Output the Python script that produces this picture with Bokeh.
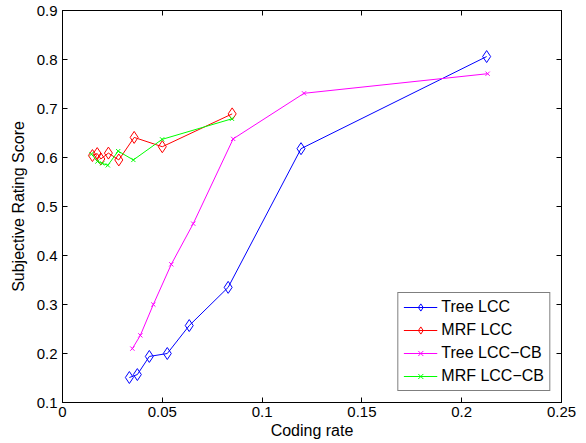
from bokeh.plotting import figure
from bokeh.models import Range1d, LinearAxis, FixedTicker, Legend, LegendItem
from bokeh.embed import file_html
from bokeh.resources import INLINE

# ---- data ----
tree_lcc_x = [0.0335, 0.0375, 0.0435, 0.0525, 0.0635, 0.0830, 0.1195, 0.2125]
tree_lcc_y = [0.151, 0.157, 0.194, 0.200, 0.257, 0.335, 0.618, 0.806]

mrf_lcc_x = [0.0150, 0.0174, 0.0192, 0.0230, 0.0282, 0.0359, 0.0500, 0.0850]
mrf_lcc_y = [0.604, 0.608, 0.597, 0.609, 0.595, 0.641, 0.622, 0.689]

tree_cb_x = [0.0350, 0.0390, 0.0455, 0.0545, 0.0655, 0.0855, 0.1210, 0.2130]
tree_cb_y = [0.210, 0.237, 0.300, 0.382, 0.465, 0.638, 0.731, 0.771]

mrf_cb_x = [0.0145, 0.0175, 0.0199, 0.0227, 0.0279, 0.0355, 0.0499, 0.0849]
mrf_cb_y = [0.607, 0.592, 0.588, 0.584, 0.613, 0.595, 0.637, 0.679]

x_ticks = [0, 0.05, 0.1, 0.15, 0.2, 0.25]
x_tick_labels = ["0", "0.05", "0.1", "0.15", "0.2", "0.25"]
y_ticks = [0.1, 0.2, 0.3, 0.4, 0.5, 0.6, 0.7, 0.8, 0.9]
y_tick_labels = ["0.1", "0.2", "0.3", "0.4", "0.5", "0.6", "0.7", "0.8", "0.9"]

FONT = "Liberation Sans"

p = figure(width=586, height=443, output_backend="svg", toolbar_location=None,
           x_range=Range1d(0, 0.25), y_range=Range1d(0.1, 0.9),
           min_border_left=62, min_border_right=25, min_border_top=10, min_border_bottom=41)
p.xgrid.visible = False
p.ygrid.visible = False
p.outline_line_color = "black"
p.outline_line_width = 1
p.background_fill_color = "white"
p.border_fill_color = "white"

def style_axis(ax, ticks, labels, show_labels=True):
    ax.ticker = FixedTicker(ticks=ticks)
    ax.major_tick_in = 5
    ax.major_tick_out = 0
    ax.minor_tick_line_color = None
    ax.axis_line_color = "black"
    ax.major_tick_line_color = "black"
    ax.major_label_text_font = FONT
    ax.major_label_text_color = "black"
    ax.major_label_text_font_size = "15px"
    if show_labels:
        ax.major_label_overrides = {t: l for t, l in zip(ticks, labels)}
    else:
        ax.major_label_overrides = {t: "" for t in ticks}
        ax.major_label_standoff = 0

style_axis(p.xaxis[0], x_ticks, x_tick_labels)
p.xaxis[0].major_label_standoff = 4
p.xaxis[0].axis_label = "Coding rate"
p.xaxis[0].axis_label_standoff = 2
style_axis(p.yaxis[0], y_ticks, y_tick_labels)
p.yaxis[0].major_label_standoff = 5
p.yaxis[0].axis_label = "Subjective Rating Score"
p.yaxis[0].axis_label_standoff = 7
for ax in (p.xaxis[0], p.yaxis[0]):
    ax.axis_label_text_font = FONT
    ax.axis_label_text_font_size = "16px"
    ax.axis_label_text_font_style = "normal"
    ax.axis_label_text_color = "black"

right = LinearAxis()
style_axis(right, y_ticks, y_tick_labels, show_labels=False)
p.add_layout(right, "right")
top = LinearAxis()
style_axis(top, x_ticks, x_tick_labels, show_labels=False)
p.add_layout(top, "above")

series = [
    ("Tree LCC", tree_lcc_x, tree_lcc_y, "#0000FF", "diamond"),
    ("MRF LCC", mrf_lcc_x, mrf_lcc_y, "#FF0000", "diamond"),
    ("Tree LCC\u2212CB", tree_cb_x, tree_cb_y, "#FF00FF", "x"),
    ("MRF LCC\u2212CB", mrf_cb_x, mrf_cb_y, "#00FF00", "x"),
]
items = []
for name, xs, ys, col, mk in series:
    ln = p.line(xs, ys, line_color=col, line_width=1)
    if mk == "diamond":
        sc = p.scatter(xs, ys, marker="diamond", size=12, line_color=col, fill_color=None, line_width=1)
    else:
        sc = p.scatter(xs, ys, marker="x", size=6, line_color=col, line_width=1)
    items.append(LegendItem(label=name, renderers=[ln, sc]))

legend = Legend(items=items, location="bottom_right")
legend.border_line_color = "black"
legend.border_line_width = 1
legend.label_text_font = FONT
legend.label_text_font_size = "16px"
legend.label_text_color = "black"
legend.glyph_width = 34
legend.glyph_height = 18
legend.label_height = 18
legend.label_standoff = 4
legend.spacing = 5
legend.padding = 5
legend.margin = 11
legend.background_fill_color = "white"
legend.background_fill_alpha = 1
p.add_layout(legend, "center")

open("out.html", "w").write(file_html(p, INLINE))
